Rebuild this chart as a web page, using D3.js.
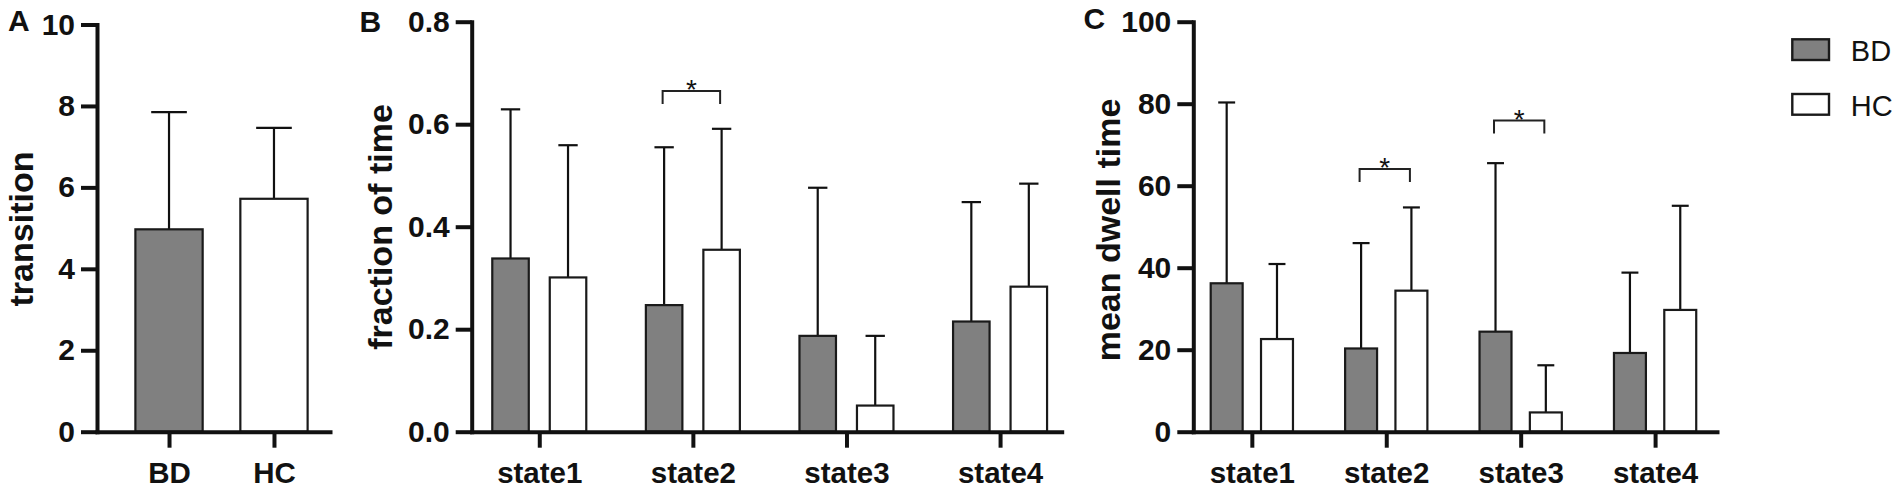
<!DOCTYPE html>
<html>
<head>
<meta charset="utf-8">
<script src="https://cdn.jsdelivr.net/npm/d3@7"></script>
<style>
  html, body { margin: 0; padding: 0; background: #fff; }
  svg { display: block; }
  text { font-family: "Liberation Sans", Arial, Helvetica, sans-serif; }
</style>
</head>
<body>
<svg id="chart" width="1901" height="493"></svg>
<script>
// ---------------- data ----------------
const groups = ["BD", "HC"];
const states = ["state1", "state2", "state3", "state4"];

// Panel A: transitions
const transitionMean = [4.97, 5.72];
const transitionSD   = [2.88, 1.74];

// Panel B: fraction of time
const fractionBD   = [0.338, 0.247, 0.187, 0.215];
const fractionBDsd = [0.291, 0.308, 0.289, 0.233];
const fractionHC   = [0.301, 0.355, 0.051, 0.283];
const fractionHCsd = [0.258, 0.236, 0.136, 0.201];

// Panel C: mean dwell time
const dwellBD   = [36.2, 20.3, 24.4, 19.2];
const dwellBDsd = [44.1, 25.7, 41.1, 19.6];
const dwellHC   = [22.6, 34.4, 4.7, 29.7];
const dwellHCsd = [18.3, 20.3, 11.5, 25.4];

// tick labels
const ticksA = [0, 2, 4, 6, 8, 10];
const ticksB = [0, 0.2, 0.4, 0.6, 0.8];
const ticksC = [0, 20, 40, 60, 80, 100];

// significance brackets (height in data units)
const sigB = [{ state: "state2", level: 0.665, label: "*" }];
const sigC = [{ state: "state2", level: 64.1, label: "*" },
              { state: "state3", level: 75.9, label: "*" }];

// ---------------- style ----------------
const fillColor = { BD: "#808080", HC: "#ffffff" };
const ink = "#111";

const svg = d3.select("#chart");

function drawPanel(cfg) {
  const g = svg.append("g");
  const x0 = d3.scalePoint().domain(cfg.categories)
    .range([cfg.left, cfg.right]).padding(cfg.padding).align(cfg.align);
  const step = x0.step();
  const y = d3.scaleLinear().domain([0, cfg.yMax]).range([cfg.bottom, cfg.top]);

  let bars = [];
  if (cfg.grouped) {
    const x1 = d3.scaleBand().domain(groups)
      .range([-0.306 * step, 0.306 * step]).paddingInner(0.365);
    cfg.series.forEach(s => {
      cfg.categories.forEach((c, i) => {
        bars.push({ key: s.name, cat: c, x: x0(c) + x1(s.name), w: x1.bandwidth(),
                    mean: s.mean[i], sd: s.sd[i] });
      });
    });
    cfg.x1 = x1;
  } else {
    const w = 0.641 * step;
    cfg.categories.forEach((c, i) => {
      bars.push({ key: c, cat: c, x: x0(c) - w / 2, w: w,
                  mean: cfg.mean[i], sd: cfg.sd[i] });
    });
  }

  // error bars
  const eb = g.append("g").attr("stroke", ink).attr("stroke-width", 2.2);
  bars.forEach(b => {
    const cx = b.x + b.w / 2;
    const cap = b.w * 0.53;
    eb.append("line").attr("x1", cx).attr("x2", cx)
      .attr("y1", y(b.mean)).attr("y2", y(b.mean + b.sd));
    eb.append("line").attr("x1", cx - cap / 2).attr("x2", cx + cap / 2)
      .attr("y1", y(b.mean + b.sd)).attr("y2", y(b.mean + b.sd));
  });

  // bars
  g.append("g").selectAll("rect").data(bars).join("rect")
    .attr("x", d => d.x).attr("width", d => d.w)
    .attr("y", d => y(d.mean)).attr("height", d => y(0) - y(d.mean))
    .attr("fill", d => fillColor[d.key])
    .attr("stroke", "#1a1a1a").attr("stroke-width", 2.2);

  // significance
  if (cfg.sig) {
    const sg = g.append("g");
    cfg.sig.forEach(s => {
      const xa = x0(s.state) + cfg.x1("BD") + cfg.x1.bandwidth() / 2 - 1.5;
      const xb = x0(s.state) + cfg.x1("HC") + cfg.x1.bandwidth() / 2 - 1.5;
      const yy = y(s.level);
      sg.append("path")
        .attr("d", `M${xa},${yy + 13}V${yy}H${xb}V${yy + 13}`)
        .attr("fill", "none").attr("stroke", "#222").attr("stroke-width", 2);
      sg.append("text").attr("x", (xa + xb) / 2).attr("y", yy + 8)
        .attr("text-anchor", "middle").attr("font-size", 28)
        .attr("fill", "#111").text(s.label);
    });
  }

  // y axis
  const yAxis = d3.axisLeft(y).tickValues(cfg.ticks).tickFormat(cfg.fmt)
    .tickSizeInner(16).tickSizeOuter(0).tickPadding(6);
  const ya = g.append("g").attr("transform", `translate(${cfg.left},0)`).call(yAxis);
  ya.select(".domain").attr("stroke", ink).attr("stroke-width", 4).attr("stroke-linecap", "square");
  ya.selectAll(".tick line").attr("stroke", ink).attr("stroke-width", 4);
  ya.selectAll(".tick text").attr("fill", ink).attr("font-size", 30)
    .attr("font-weight", "bold");

  // x axis
  const xAxis = d3.axisBottom(x0).tickSizeInner(16).tickSizeOuter(0).tickPadding(14);
  const xa = g.append("g").attr("transform", `translate(0,${cfg.bottom})`).call(xAxis);
  xa.select(".domain").attr("stroke", ink).attr("stroke-width", 4).attr("stroke-linecap", "square");
  xa.selectAll(".tick line").attr("stroke", ink).attr("stroke-width", 4);
  xa.selectAll(".tick text").attr("fill", ink).attr("font-size", 29.5)
    .attr("font-weight", "bold");

  // axis title
  g.append("text")
    .attr("transform", `translate(${cfg.titleX},${cfg.titleY}) rotate(-90)`)
    .attr("text-anchor", "middle").attr("font-size", 34).attr("font-weight", "bold")
    .attr("fill", ink).text(cfg.title);

  // panel letter
  g.append("text").attr("x", cfg.letterX).attr("y", cfg.letterY)
    .attr("font-size", 30).attr("font-weight", "bold").attr("fill", ink)
    .text(cfg.letter);
}

drawPanel({
  categories: groups, grouped: false, mean: transitionMean, sd: transitionSD,
  left: 97, right: 330, top: 24.5, bottom: 431.7, padding: 0.61, align: 0.5625,
  yMax: 10, ticks: ticksA, fmt: d3.format("d"),
  title: "transition", titleX: 33, titleY: 229, letter: "A", letterX: 8, letterY: 31
});

drawPanel({
  categories: states, grouped: true,
  series: [{ name: "BD", mean: fractionBD, sd: fractionBDsd },
           { name: "HC", mean: fractionHC, sd: fractionHCsd }],
  sig: sigB,
  left: 471.7, right: 1061.7, top: 21.7, bottom: 431.7, padding: 0.4206, align: 0.523,
  yMax: 0.8, ticks: ticksB, fmt: d3.format(".1f"),
  title: "fraction of time", titleX: 392, titleY: 227, letter: "B", letterX: 359.5, letterY: 32
});

drawPanel({
  categories: states, grouped: true,
  series: [{ name: "BD", mean: dwellBD, sd: dwellBDsd },
           { name: "HC", mean: dwellHC, sd: dwellHCsd }],
  sig: sigC,
  left: 1193.3, right: 1717, top: 21.7, bottom: 431.7, padding: 0.448, align: 0.486,
  yMax: 100, ticks: ticksC, fmt: d3.format("d"),
  title: "mean dwell time", titleX: 1120, titleY: 230, letter: "C", letterX: 1083.5, letterY: 29
});

// legend
const legend = svg.append("g").attr("transform", "translate(1792.3,39.3)");
const legendY = d3.scalePoint().domain(groups).range([0, 54.7]);
groups.forEach(gname => {
  legend.append("rect").attr("x", 0).attr("y", legendY(gname))
    .attr("width", 36.7).attr("height", 20.7)
    .attr("fill", fillColor[gname]).attr("stroke", "#1a1a1a").attr("stroke-width", 2.4);
  legend.append("text").attr("x", 58.5).attr("y", legendY(gname) + 22)
    .attr("font-size", 29).attr("fill", ink).text(gname);
});
</script>
</body>
</html>
